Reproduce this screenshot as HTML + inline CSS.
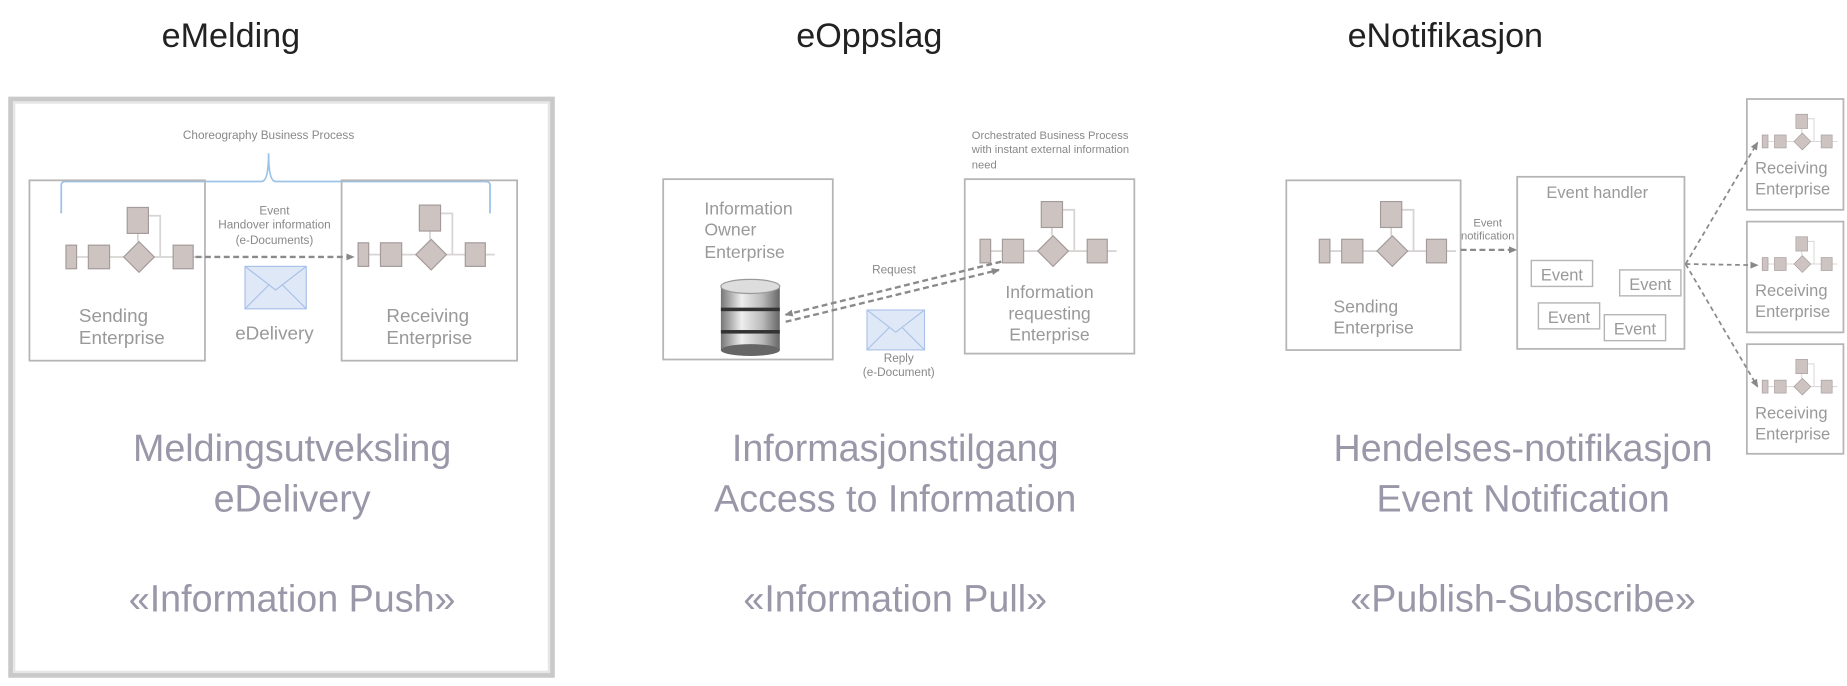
<!DOCTYPE html>
<html><head><meta charset="utf-8"><style>
html,body{margin:0;padding:0;background:#fff;}
svg{display:block;}
text{font-family:"Liberation Sans",sans-serif;}
</style></head><body>
<svg width="1847" height="686" viewBox="0 0 1568 582" preserveAspectRatio="none" xmlns="http://www.w3.org/2000/svg">
<defs>
<g id="ic">
 <line x1="0" y1="0" x2="116" y2="0" stroke="#d8d4d4" stroke-width="1.5"/>
 <line x1="61" y1="-20" x2="61" y2="-13" stroke="#d8d4d4" stroke-width="1.5"/>
 <polyline points="70,-35 80,-35 80,0" fill="none" stroke="#d8d4d4" stroke-width="1.5"/>
 <rect x="0" y="-10" width="9" height="20" fill="#cdc4c2" stroke="#a39a9a"/>
 <rect x="19" y="-10" width="18" height="20" fill="#cdc4c2" stroke="#a39a9a"/>
 <polygon points="62,-13 75,0 62,13 49,0" fill="#cdc4c2" stroke="#a39a9a"/>
 <rect x="91" y="-10" width="17" height="20" fill="#cdc4c2" stroke="#a39a9a"/>
 <rect x="52" y="-42" width="18" height="22" fill="#cdc4c2" stroke="#a39a9a"/>
</g>
<g id="env">
 <rect x="0" y="0" width="52" height="36" fill="#dfe8f7" stroke="#a9c0e8"/>
 <polyline points="0,0 26,20 52,0" fill="none" stroke="#a9c0e8"/>
 <line x1="0" y1="36" x2="20" y2="16" stroke="#a9c0e8"/>
 <line x1="52" y1="36" x2="32" y2="16" stroke="#a9c0e8"/>
</g>
<marker id="ar" markerUnits="userSpaceOnUse" markerWidth="7" markerHeight="7" refX="6" refY="3.5" orient="auto"><path d="M0,0.5 L7,3.5 L0,6.5z" fill="#888"/></marker>
<linearGradient id="db" x1="0" x2="1"><stop offset="0" stop-color="#777"/><stop offset="0.35" stop-color="#eee"/><stop offset="0.7" stop-color="#bbb"/><stop offset="1" stop-color="#666"/></linearGradient>
</defs>

<g font-size="29" fill="#222" text-anchor="middle">
<text x="196" y="40">eMelding</text>
<text x="738" y="40">eOppslag</text>
<text x="1227" y="40">eNotifikasjon</text>
</g>

<!-- Panel 1 -->
<rect x="9" y="84" width="460" height="489" fill="none" stroke="#c9c9c9" stroke-width="4"/>
<rect x="12" y="87" width="454" height="483" fill="none" stroke="#e6e6e6" stroke-width="2"/>
<text x="228" y="118" font-size="10" fill="#888" text-anchor="middle">Choreography Business Process</text>
<path d="M52,181 L52,157 Q52,154 56,154 L222,154 Q228,154 228,130 Q228,154 234,154 L412,154 Q416,154 416,157 L416,181" fill="none" stroke="#9cc3e8" stroke-width="1.5"/>
<rect x="25" y="153" width="149" height="153" fill="none" stroke="#b5b5b5" stroke-width="1.5"/>
<rect x="290" y="153" width="149" height="153" fill="none" stroke="#b5b5b5" stroke-width="1.5"/>
<use href="#ic" x="56" y="218"/>
<use href="#ic" x="304" y="216"/>
<line x1="166" y1="218" x2="300" y2="218" stroke="#8a8a8a" stroke-width="2" stroke-dasharray="5,3" marker-end="url(#ar)"/>
<g font-size="10" fill="#888" text-anchor="middle">
<text x="233" y="182">Event</text><text x="233" y="194">Handover information</text><text x="233" y="207">(e-Documents)</text>
</g>
<use href="#env" x="208" y="226"/>
<g font-size="16" fill="#999">
<text x="67" y="273">Sending</text><text x="67" y="292">Enterprise</text>
<text x="233" y="288" text-anchor="middle">eDelivery</text>
<text x="328" y="273">Receiving</text><text x="328" y="292">Enterprise</text>
</g>
<g font-size="32" fill="#9a97a8" text-anchor="middle">
<text x="248" y="391">Meldingsutveksling</text>
<text x="248" y="434">eDelivery</text>
<text x="248" y="519">«Information Push»</text>
</g>

<!-- Panel 2 -->
<rect x="563" y="152" width="144" height="153" fill="none" stroke="#b5b5b5" stroke-width="1.5"/>
<rect x="819" y="152" width="144" height="148" fill="none" stroke="#b5b5b5" stroke-width="1.5"/>
<g font-size="15" fill="#999"><text x="598" y="182">Information</text><text x="598" y="200">Owner</text><text x="598" y="219">Enterprise</text></g>
<g font-size="9.5" fill="#888"><text x="825" y="118">Orchestrated Business Process</text><text x="825" y="130">with instant external information</text><text x="825" y="143">need</text></g>
<use href="#ic" x="832" y="213"/>
<g font-size="15" fill="#999" text-anchor="middle"><text x="891" y="253">Information</text><text x="891" y="271">requesting</text><text x="891" y="289">Enterprise</text></g>
<g>
<rect x="612" y="243" width="50" height="54" fill="url(#db)"/>
<ellipse cx="637" cy="297" rx="25" ry="5" fill="#666"/>
<rect x="612" y="261" width="50" height="3" fill="#333"/>
<rect x="612" y="280" width="50" height="3" fill="#333"/>
<ellipse cx="637" cy="243" rx="25" ry="6" fill="#ddd" stroke="#999"/>
</g>
<line x1="850" y1="222" x2="667" y2="267" stroke="#8a8a8a" stroke-width="2" stroke-dasharray="5,3" marker-end="url(#ar)"/>
<line x1="667" y1="273" x2="848" y2="229" stroke="#8a8a8a" stroke-width="2" stroke-dasharray="5,3" marker-end="url(#ar)"/>
<text x="759" y="232" font-size="10" fill="#888" text-anchor="middle">Request</text>
<g transform="translate(736,263) scale(0.94)"><use href="#env"/></g>
<g font-size="10" fill="#888" text-anchor="middle"><text x="763" y="307">Reply</text><text x="763" y="319">(e-Document)</text></g>
<g font-size="32" fill="#9a97a8" text-anchor="middle">
<text x="760" y="391">Informasjonstilgang</text>
<text x="760" y="434">Access to Information</text>
<text x="760" y="519">«Information Pull»</text>
</g>

<!-- Panel 3 -->
<rect x="1092" y="153" width="148" height="144" fill="none" stroke="#b5b5b5" stroke-width="1.5"/>
<use href="#ic" x="1120" y="213"/>
<g font-size="15" fill="#999"><text x="1132" y="265">Sending</text><text x="1132" y="283">Enterprise</text></g>
<line x1="1240" y1="212" x2="1287" y2="212" stroke="#8a8a8a" stroke-width="2" stroke-dasharray="5,3" marker-end="url(#ar)"/>
<g font-size="9.5" fill="#888" text-anchor="middle"><text x="1263" y="192">Event</text><text x="1263" y="203">notification</text></g>
<rect x="1288" y="150" width="142" height="146" fill="none" stroke="#b5b5b5" stroke-width="1.5"/>
<text x="1356" y="168" font-size="14" fill="#999" text-anchor="middle">Event handler</text>
<g fill="none" stroke="#b5b5b5" stroke-width="1.2">
<rect x="1300" y="221" width="52" height="22"/><rect x="1375" y="229" width="52" height="22"/>
<rect x="1306" y="257" width="52" height="22"/><rect x="1362" y="267" width="52" height="22"/>
</g>
<g font-size="14" fill="#999" text-anchor="middle">
<text x="1326" y="238">Event</text><text x="1401" y="246">Event</text><text x="1332" y="274">Event</text><text x="1388" y="284">Event</text>
</g>
<g fill="none" stroke="#b5b5b5" stroke-width="1.5">
<rect x="1483" y="84" width="82" height="94"/><rect x="1483" y="188" width="82" height="94"/><rect x="1483" y="292" width="82" height="93"/>
</g>
<use href="#ic" transform="translate(1496,120) scale(0.55)"/>
<use href="#ic" transform="translate(1496,224) scale(0.55)"/>
<use href="#ic" transform="translate(1496,328) scale(0.55)"/>
<g font-size="14" fill="#999">
<text x="1490" y="147">Receiving</text><text x="1490" y="165">Enterprise</text>
<text x="1490" y="251">Receiving</text><text x="1490" y="269">Enterprise</text>
<text x="1490" y="355">Receiving</text><text x="1490" y="373">Enterprise</text>
</g>
<g stroke="#8a8a8a" stroke-width="1.5" stroke-dasharray="4,3" marker-end="url(#ar)">
<line x1="1431" y1="224" x2="1492" y2="121"/>
<line x1="1431" y1="224" x2="1492" y2="225"/>
<line x1="1431" y1="224" x2="1492" y2="328"/>
</g>
<g font-size="32" fill="#9a97a8" text-anchor="middle">
<text x="1293" y="391">Hendelses-notifikasjon</text>
<text x="1293" y="434">Event Notification</text>
<text x="1293" y="519">«Publish-Subscribe»</text>
</g>
</svg>
</body></html>
